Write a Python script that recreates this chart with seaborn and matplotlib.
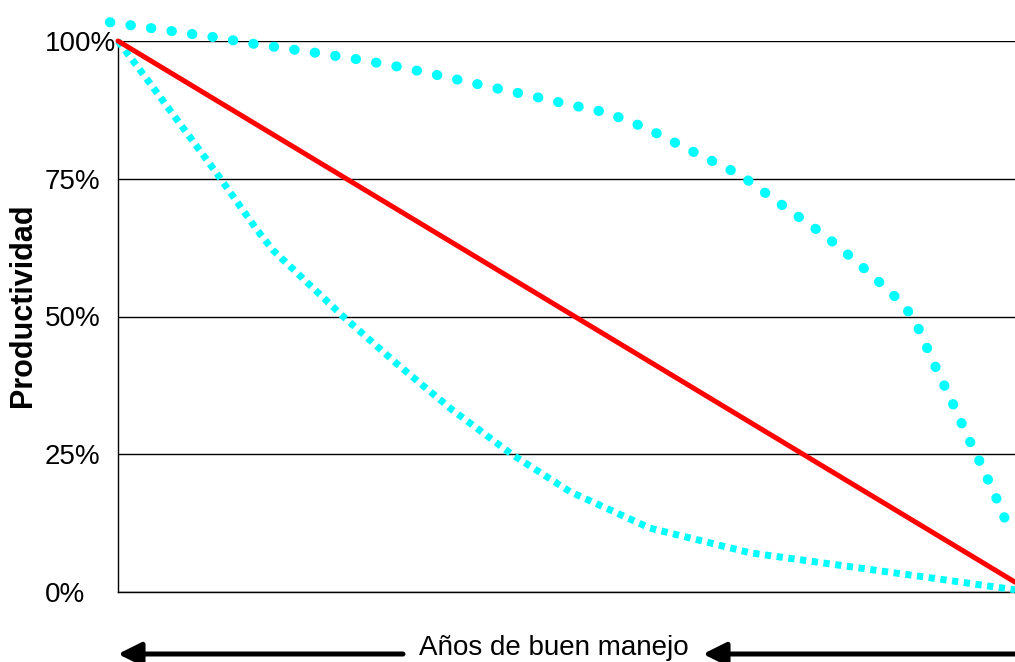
import numpy as np
import pandas as pd
import matplotlib
matplotlib.use("Agg")
import matplotlib.pyplot as plt
import seaborn as sns

# values (x = share of the period, y = productivity %)
upper_x = [-0.9, 10.7, 15.5, 22.3, 27.0, 31.7, 36.2, 40.8, 45.4, 49.9, 54.5, 58.9,
           63.0, 69.4, 73.2, 78.9, 82.5, 86.0, 87.7, 89.0, 90.9, 92.9, 94.8, 95.8,
           97.8, 99.6]
upper_y = [103.4, 100.7, 99.4, 97.8, 96.6, 95.2, 93.6, 91.9, 90.3, 88.6, 87.0, 84.2,
           80.8, 75.7, 71.2, 64.6, 59.7, 54.6, 51.9, 48.7, 41.7, 34.8, 27.9, 24.6,
           17.5, 10.5]

lower_x = [0, 2.8, 11.0, 15.5, 17.3, 25.1, 31.1, 37.3, 43.9, 50.4, 59.3, 70.5,
           81.6, 90.9, 100]
lower_y = [100, 94, 76, 65.7, 62, 50, 41.4, 33, 25, 18.2, 11.6, 7.1, 4.6, 2.5, 0.4]

linear_x = [0, 100]
linear_y = [100, 1.8]

y_ticks = [0, 25, 50, 75, 100]
y_labels = ["0%", "25%", "50%", "75%", "100%"]

upper = pd.DataFrame({"x": upper_x, "y": upper_y})
lower = pd.DataFrame({"x": lower_x, "y": lower_y})
linear = pd.DataFrame({"x": linear_x, "y": linear_y})

sns.set_theme(style="white")
plt.rcParams["font.family"] = ["Liberation Sans", "DejaVu Sans"]

fig = plt.figure(figsize=(10.15, 6.62), dpi=100)
ax = fig.add_axes([118 / 1015, 1 - 592 / 662, 1 - 118 / 1015, (592 - 41) / 662])

sns.lineplot(data=lower, x="x", y="y", ax=ax, color="#00FFFF", linewidth=5.0,
             linestyle=(0, (0.9, 0.8)), dash_capstyle="butt", clip_on=False, zorder=3)
sns.lineplot(data=upper, x="x", y="y", ax=ax, color="#00FFFF", linewidth=7.2,
             linestyle=(0, (0.05, 2.02)), dash_capstyle="round", clip_on=False, zorder=3)
sns.lineplot(data=linear, x="x", y="y", ax=ax, color="#FF0000", linewidth=3.6,
             clip_on=False, zorder=4)

ax.set_xlim(0, 100)
ax.set_ylim(0, 100)
ax.set_xticks([])
ax.set_yticks(y_ticks)
ax.set_yticklabels(y_labels, fontsize=20, color="black")
for lab in ax.get_yticklabels():
    lab.set_horizontalalignment("left")
ax.tick_params(axis="y", length=0, pad=52.6)
ax.set_xlabel("")
ax.set_ylabel("Productividad", fontsize=22, fontweight="bold", color="black",
              va="center")
ax.yaxis.set_label_coords(-0.106, 0.52)

ax.set_axisbelow(True)
ax.yaxis.grid(True, color="black", linewidth=1.0)
ax.xaxis.grid(False)
for side in ["top", "right"]:
    ax.spines[side].set_visible(False)
for side in ["left", "bottom"]:
    ax.spines[side].set_color("black")
    ax.spines[side].set_linewidth(1.0)

# arrows and caption under the axis
arrow_y = 1 - 654 / 662
arrow_style = dict(arrowstyle="-|>,head_length=0.7,head_width=0.35", lw=3.6,
                   color="black", shrinkA=0, shrinkB=0, mutation_scale=20)
ax.annotate("", xy=(118 / 1015, arrow_y), xytext=(403 / 1015, arrow_y),
            xycoords="figure fraction", textcoords="figure fraction",
            arrowprops=arrow_style, annotation_clip=False)
ax.annotate("", xy=(703 / 1015, arrow_y), xytext=(1.0, arrow_y),
            xycoords="figure fraction", textcoords="figure fraction",
            arrowprops=arrow_style, annotation_clip=False)
fig.text(554 / 1015, 1 - 648 / 662, "Años de buen manejo", fontsize=20,
         ha="center", va="center", color="black")

fig.savefig("out.png", dpi=100)
